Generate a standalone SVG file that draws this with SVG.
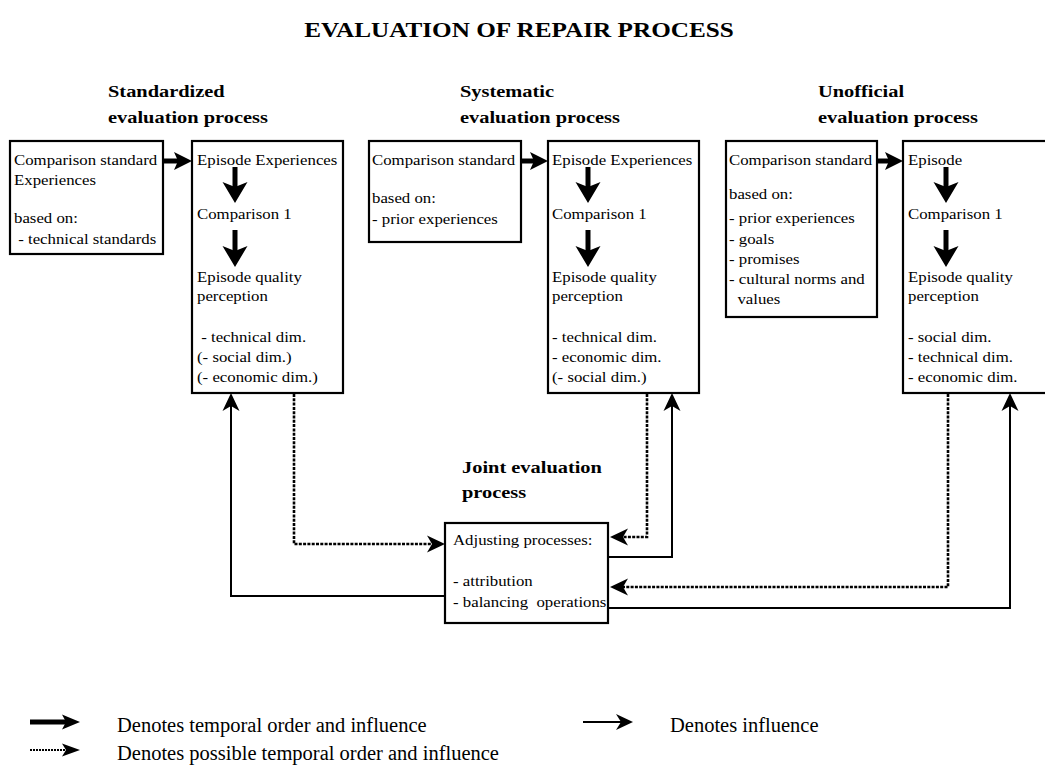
<svg xmlns="http://www.w3.org/2000/svg" width="1045" height="774" viewBox="0 0 1045 774">
<style>
text{font-family:"Liberation Serif","Times New Roman",serif;fill:#000}
.b{font-size:14px}
.h{font-size:17px;font-weight:bold}
.ttl{font-size:21px;font-weight:bold}
.lg{font-size:20.5px}
.box{fill:#fff;stroke:#000;stroke-width:2.2}
.thick{stroke:#000;stroke-width:5;fill:none}
.thin{stroke:#000;stroke-width:2;fill:none}
.dot{stroke:#000;stroke-width:2.6;stroke-dasharray:3 1.3;fill:none}
</style>
<defs>
<marker id="mThin" viewBox="-14 -10 22 20" markerWidth="22" markerHeight="20" refX="0" refY="0" orient="auto" markerUnits="userSpaceOnUse"><path d="M6,0 L-12,-8.5 L-7,0 L-12,8.5 Z" fill="#000"/></marker>
<marker id="mThickH" viewBox="-12 -10 24 20" markerWidth="24" markerHeight="20" refX="0" refY="0" orient="auto" markerUnits="userSpaceOnUse"><path d="M10,0 L-8,-9 L-4,0 L-8,9 Z" fill="#000"/></marker>
<marker id="mThickV" viewBox="-14 -14 26 28" markerWidth="26" markerHeight="28" refX="0" refY="0" orient="auto" markerUnits="userSpaceOnUse"><path d="M10,0 L-11,-12.5 L-6,0 L-11,12.5 Z" fill="#000"/></marker>
</defs>
<rect width="1045" height="774" fill="#fff"/>

<g id="title" transform="matrix(1.2 0 0 1 519 0)"><text class="ttl" x="0" y="37" text-anchor="middle">EVALUATION OF REPAIR PROCESS</text></g>

<g id="hdr-standardized" transform="matrix(1.2 0 0 1 108 0)"><text class="h" y="97">Standardized</text><text class="h" y="123">evaluation process</text></g>
<g id="hdr-systematic" transform="matrix(1.2 0 0 1 460 0)"><text class="h" y="97">Systematic</text><text class="h" y="123">evaluation process</text></g>
<g id="hdr-unofficial" transform="matrix(1.2 0 0 1 818 0)"><text class="h" y="97">Unofficial</text><text class="h" y="123">evaluation process</text></g>
<g id="hdr-joint" transform="matrix(1.2 0 0 1 462 0)"><text class="h" y="473">Joint evaluation</text><text class="h" y="498">process</text></g>

<g id="std-comparison">
<rect class="box" x="10" y="141" width="153" height="113"/>
<g transform="matrix(1.2 0 0 1 14 0)">
<text class="b" y="165">Comparison standard</text>
<text class="b" y="185">Experiences</text>
<text class="b" y="223">based on:</text>
<text class="b" y="244" xml:space="preserve"> - technical standards</text>
</g></g>

<g id="std-episode">
<rect class="box" x="192" y="141" width="151" height="252"/>
<g transform="matrix(1.2 0 0 1 197 0)">
<text class="b" y="165">Episode Experiences</text>
<text class="b" y="219">Comparison 1</text>
<text class="b" y="282">Episode quality</text>
<text class="b" y="301">perception</text>
<text class="b" y="342" xml:space="preserve"> - technical dim.</text>
<text class="b" y="362">(- social dim.)</text>
<text class="b" y="382">(- economic dim.)</text>
</g></g>

<g id="sys-comparison">
<rect class="box" x="369" y="141" width="152" height="101"/>
<g transform="matrix(1.2 0 0 1 372 0)">
<text class="b" y="165">Comparison standard</text>
<text class="b" y="203">based on:</text>
<text class="b" y="224">- prior experiences</text>
</g></g>

<g id="sys-episode">
<rect class="box" x="548" y="141" width="151" height="252"/>
<g transform="matrix(1.2 0 0 1 552 0)">
<text class="b" y="165">Episode Experiences</text>
<text class="b" y="219">Comparison 1</text>
<text class="b" y="282">Episode quality</text>
<text class="b" y="301">perception</text>
<text class="b" y="342">- technical dim.</text>
<text class="b" y="362">- economic dim.</text>
<text class="b" y="382">(- social dim.)</text>
</g></g>

<g id="unof-comparison">
<rect class="box" x="726" y="141" width="151" height="176"/>
<g transform="matrix(1.2 0 0 1 729 0)">
<text class="b" y="165">Comparison standard</text>
<text class="b" y="199">based on:</text>
<text class="b" y="223">- prior experiences</text>
<text class="b" y="244">- goals</text>
<text class="b" y="264">- promises</text>
<text class="b" y="284">- cultural norms and</text>
<text class="b" y="304" xml:space="preserve">  values</text>
</g></g>

<g id="unof-episode">
<rect class="box" x="903" y="141" width="151" height="252"/>
<g transform="matrix(1.2 0 0 1 908 0)">
<text class="b" y="165">Episode</text>
<text class="b" y="219">Comparison 1</text>
<text class="b" y="282">Episode quality</text>
<text class="b" y="301">perception</text>
<text class="b" y="342">- social dim.</text>
<text class="b" y="362">- technical dim.</text>
<text class="b" y="382">- economic dim.</text>
</g></g>

<g id="joint">
<rect class="box" x="445" y="523" width="163" height="100"/>
<g transform="matrix(1.2 0 0 1 453 0)">
<text class="b" y="545">Adjusting processes:</text>
<text class="b" y="586">- attribution</text>
<text class="b" y="607" xml:space="preserve">- balancing  operations</text>
</g></g>

<g id="connectors">
<line class="thick" x1="164" y1="161" x2="182" y2="161" marker-end="url(#mThickH)"/>
<line class="thick" x1="522" y1="161" x2="538" y2="161" marker-end="url(#mThickH)"/>
<line class="thick" x1="878" y1="161" x2="893" y2="161" marker-end="url(#mThickH)"/>
<line class="thick" x1="235" y1="167" x2="235" y2="193" marker-end="url(#mThickV)"/>
<line class="thick" x1="235" y1="230" x2="235" y2="257" marker-end="url(#mThickV)"/>
<line class="thick" x1="588" y1="167" x2="588" y2="193" marker-end="url(#mThickV)"/>
<line class="thick" x1="588" y1="230" x2="588" y2="257" marker-end="url(#mThickV)"/>
<line class="thick" x1="946" y1="167" x2="946" y2="193" marker-end="url(#mThickV)"/>
<line class="thick" x1="946" y1="230" x2="946" y2="257" marker-end="url(#mThickV)"/>
<path class="dot" d="M294,394 V544 H439" marker-end="url(#mThin)"/>
<path class="thin" d="M445,596 H231 V399" marker-end="url(#mThin)"/>
<path class="dot" d="M647,394 V537 H616" marker-end="url(#mThin)"/>
<path class="thin" d="M608,557 H672 V399" marker-end="url(#mThin)"/>
<path class="dot" d="M948,394 V587 H616" marker-end="url(#mThin)"/>
<path class="thin" d="M608,608 H1010 V399" marker-end="url(#mThin)"/>
</g>

<g id="legend">
<line x1="30" y1="722" x2="67" y2="722" stroke="#000" stroke-width="5"/>
<path d="M80,722 L62,714.5 L66,722 L62,729.5 Z" fill="#000"/>
<text class="lg" x="117" y="732">Denotes temporal order and influence</text>
<line x1="30" y1="750" x2="67" y2="750" stroke="#000" stroke-width="2" stroke-dasharray="2 1"/>
<path d="M80,750 L62,743.5 L66,750 L62,756.5 Z" fill="#000"/>
<text class="lg" x="117" y="760">Denotes possible temporal order and influence</text>
<line x1="583" y1="722" x2="624" y2="722" stroke="#000" stroke-width="2"/>
<path d="M633,722 L616,714 L621,722 L616,730 Z" fill="#000"/>
<text class="lg" x="670" y="732">Denotes influence</text>
</g>
</svg>
